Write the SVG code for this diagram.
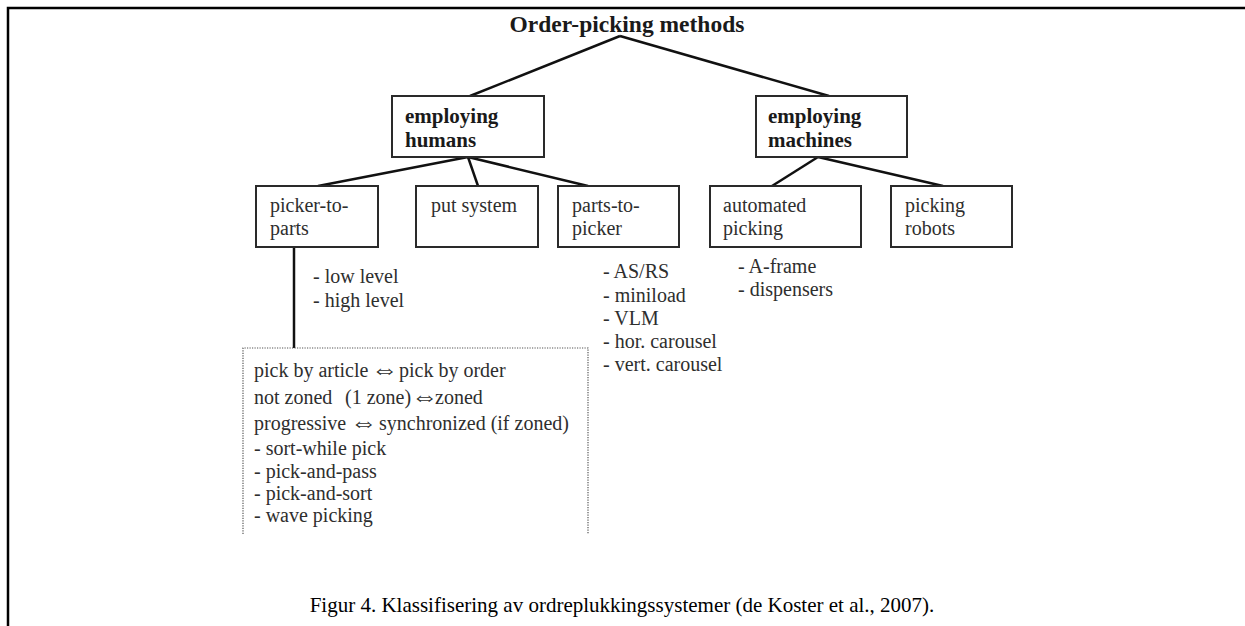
<svg xmlns="http://www.w3.org/2000/svg" width="1245" height="626" viewBox="0 0 1245 626">
<style>
  .box { fill: #fff; stroke: #2a2a2a; stroke-width: 2; }
  .conn { stroke: #111; stroke-width: 2.5; fill: none; }
  .bold { font-family: "Liberation Serif", "DejaVu Serif", serif; font-weight: bold; font-size: 21px; fill: #1a1a1a; }
  .reg { font-family: "Liberation Serif", "DejaVu Serif", serif; font-size: 20px; fill: #2e2e2e; }
  .arr { font-family: "DejaVu Sans", sans-serif; font-weight: 200; font-size: 27px; }
  .dot { fill: none; stroke: #555; stroke-width: 1.2; stroke-dasharray: 1.2 1.3; }
</style>
<rect x="0" y="0" width="1245" height="626" fill="#fff"/>
<path d="M8 626 V8 H1245" fill="none" stroke="#000" stroke-width="2.5"/>

<g id="connectors">
  <path class="conn" d="M620 36 L470 96"/>
  <path class="conn" d="M620 36 L829 96"/>
  <path class="conn" d="M468 157 L318 186"/>
  <path class="conn" d="M468 157 L478 186"/>
  <path class="conn" d="M468 157 L588 186"/>
  <path class="conn" d="M818 157 L772 186"/>
  <path class="conn" d="M818 157 L943 186"/>
  <path class="conn" d="M294 247 L294 348"/>
</g>

<g id="root">
  <text x="627" y="32" text-anchor="middle" font-family="Liberation Serif, DejaVu Serif, serif" font-weight="bold" font-size="23.5" fill="#1a1a1a">Order-picking methods</text>
</g>

<g id="employing-humans">
  <rect class="box" x="392" y="96" width="152" height="61"/>
  <text class="bold" x="405" y="123">employing</text>
  <text class="bold" x="405" y="147">humans</text>
</g>

<g id="employing-machines">
  <rect class="box" x="756" y="96" width="151" height="61"/>
  <text class="bold" x="768" y="123">employing</text>
  <text class="bold" x="768" y="147">machines</text>
</g>

<g id="picker-to-parts">
  <rect class="box" x="256" y="186" width="122" height="61"/>
  <text class="reg" x="270" y="212">picker-to-</text>
  <text class="reg" x="270" y="235">parts</text>
</g>

<g id="put-system">
  <rect class="box" x="416" y="186" width="122" height="61"/>
  <text class="reg" x="431" y="212">put system</text>
</g>

<g id="parts-to-picker">
  <rect class="box" x="558" y="186" width="121" height="61"/>
  <text class="reg" x="572" y="212">parts-to-</text>
  <text class="reg" x="572" y="235">picker</text>
</g>

<g id="automated-picking">
  <rect class="box" x="710" y="186" width="151" height="61"/>
  <text class="reg" x="723" y="212">automated</text>
  <text class="reg" x="723" y="235">picking</text>
</g>

<g id="picking-robots">
  <rect class="box" x="891" y="186" width="121" height="61"/>
  <text class="reg" x="905" y="212">picking</text>
  <text class="reg" x="905" y="235">robots</text>
</g>

<g id="picker-to-parts-list">
  <text class="reg" x="313" y="283">- low level</text>
  <text class="reg" x="313" y="307">- high level</text>
</g>

<g id="parts-to-picker-list">
  <text class="reg" x="603" y="278">- AS/RS</text>
  <text class="reg" x="603" y="302">- miniload</text>
  <text class="reg" x="603" y="325">- VLM</text>
  <text class="reg" x="603" y="348">- hor. carousel</text>
  <text class="reg" x="603" y="371">- vert. carousel</text>
</g>

<g id="automated-list">
  <text class="reg" x="738" y="273">- A-frame</text>
  <text class="reg" x="738" y="296">- dispensers</text>
</g>

<g id="picking-policies">
  <path class="dot" d="M243 534 V348 H588 V534"/>
  <text class="reg" y="377"><tspan x="254">pick by article</tspan><tspan class="arr" x="371" y="378">⇔</tspan><tspan x="399" y="377">pick by order</tspan></text>
  <text class="reg" y="404"><tspan x="254">not zoned</tspan><tspan x="345">(1 zone)</tspan><tspan class="arr" x="411" y="405">⇔</tspan><tspan x="435" y="404">zoned</tspan></text>
  <text class="reg" y="430"><tspan x="254">progressive</tspan><tspan class="arr" x="350" y="431">⇔</tspan><tspan x="379" y="430">synchronized (if zoned)</tspan></text>
  <text class="reg" x="254" y="455">- sort-while pick</text>
  <text class="reg" x="254" y="478">- pick-and-pass</text>
  <text class="reg" x="254" y="500">- pick-and-sort</text>
  <text class="reg" x="254" y="522">- wave picking</text>
</g>

<g id="caption">
  <text x="622" y="612" text-anchor="middle" font-family="Liberation Serif, DejaVu Serif, serif" font-size="21" fill="#000">Figur 4. Klassifisering av ordreplukkingssystemer (de Koster et al., 2007).</text>
</g>
</svg>
